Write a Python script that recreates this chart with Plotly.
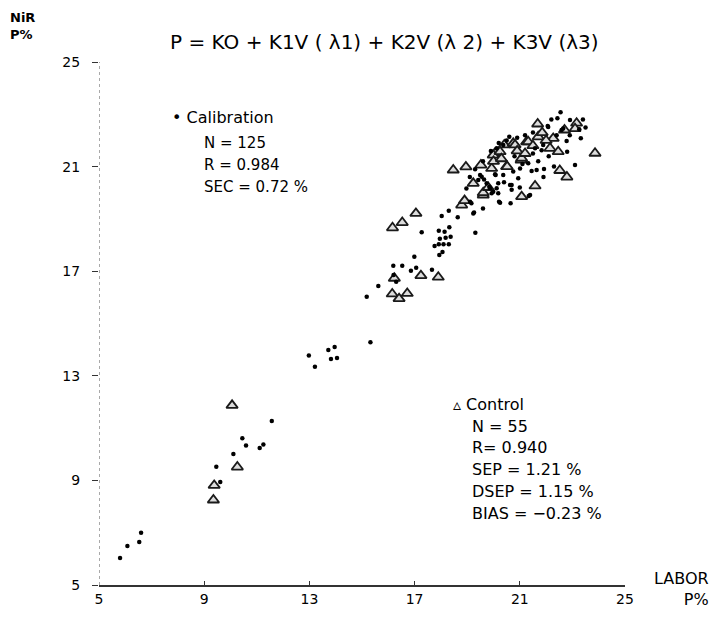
import plotly.graph_objects as go

# Calibration samples (dots): LABOR P% vs NIR P%
cal_x = [5.80, 6.08, 6.53, 6.60, 9.46, 9.61, 10.11, 10.45, 10.59, 11.11, 11.25, 11.57,
         12.98, 13.21, 13.72, 13.96, 13.82, 14.05, 15.32, 15.18, 15.62, 16.19, 16.53, 16.86,
         17.06, 16.99, 17.27, 17.66, 16.2, 16.3,
         17.92, 18.14, 18.32, 17.96, 18.18, 18.37, 17.76, 17.92, 18.10, 18.30, 18.06, 17.94,
         18.03, 18.30, 18.64, 19.26, 19.31, 19.16,
         18.97, 19.49, 19.64, 19.74, 19.87, 20.08, 20.18, 20.21, 19.23, 20.25, 20.65, 21.34,
         19.84, 19.99, 20.18, 20.63, 20.69, 19.11, 22.55, 22.43, 22.91, 22.08, 22.59, 22.78,
         23.32, 22.80, 23.10, 21.92, 21.64, 21.45, 21.32, 20.94, 20.75, 20.37, 20.06, 19.55,
         20.69, 21.39, 20.12, 19.93, 19.42, 21.83, 21.89, 21.58, 21.01, 20.60, 20.37, 20.12,
         22.65, 23.26, 22.06, 19.1, 19.3, 19.6, 19.9, 20.2, 20.5, 20.9, 21.2, 21.5, 22.2,
         22.4, 21.1, 21.7, 22.1, 22.3, 22.9, 23.5, 23.4, 19.6, 21.0, 21.9, 20.4, 20.8, 21.5]
cal_y = [6.03, 6.49, 6.64, 7.00, 9.52, 8.94, 10.01, 10.61, 10.33, 10.24, 10.37, 11.27,
         13.78, 13.35, 13.99, 14.10, 13.64, 13.68, 14.28, 16.02, 16.43, 17.21, 17.21, 17.02,
         17.13, 17.55, 18.49, 17.06, 16.85, 16.6,
         18.55, 18.51, 18.68, 18.24, 18.28, 18.32, 17.96, 18.03, 18.03, 18.03, 17.73, 17.62,
         19.11, 19.31, 19.06, 19.24, 18.47, 19.60,
         20.16, 20.68, 20.51, 20.36, 20.17, 20.68, 20.36, 19.66, 19.21, 19.62, 19.60, 19.88,
         20.23, 20.04, 19.98, 20.30, 20.11, 19.66, 23.08, 22.85, 22.78, 22.51, 22.40, 21.98,
         22.08, 21.57, 21.06, 20.91, 20.87, 20.83, 21.13, 20.55, 20.81, 20.68, 20.71, 20.61,
         20.30, 19.91, 20.17, 19.98, 20.49, 21.63, 21.83, 21.70, 20.93, 22.14, 21.83, 21.70,
         22.46, 22.43, 22.55, 20.6, 20.9, 21.2, 21.6, 21.9, 22.0, 22.1, 22.2, 22.3, 22.8,
         22.2, 21.1, 21.2, 21.4, 21.0, 22.2, 22.5, 22.8, 19.4, 20.2, 20.6, 20.4, 21.4, 21.5]

# Control samples (triangles)
ctl_x = [9.35, 9.38, 10.26, 10.06,
         16.16, 16.53, 17.05, 16.23, 17.24, 17.90, 16.15, 16.41, 16.72,
         18.47, 18.95, 19.52, 19.93, 20.50, 21.05, 20.06, 20.41, 20.75, 21.26, 21.70, 22.27,
         22.15, 22.46, 21.68, 23.16, 23.10, 23.86, 22.52, 22.79, 21.58, 21.07, 19.61, 19.23,
         18.79, 19.61, 19.99, 21.32, 20.82, 21.07, 20.52, 20.00, 21.85, 20.25, 21.50, 20.90,
         22.00, 18.90, 20.30, 21.20, 22.70, 19.80]
ctl_y = [8.25, 8.81, 9.51, 11.87,
         18.66, 18.86, 19.21, 16.73, 16.83, 16.77, 16.13, 15.95, 16.15,
         20.87, 20.99, 21.06, 20.93, 21.00, 21.25, 21.51, 21.83, 21.89, 21.95, 22.14, 22.08,
         21.70, 21.57, 22.63, 22.66, 22.45, 21.51, 20.85, 20.60, 20.26, 19.85, 19.91, 20.36,
         19.53, 20.00, 21.44, 21.95, 21.83, 21.32, 21.00, 21.20, 22.30, 21.57, 21.80, 21.60,
         22.00, 19.70, 21.30, 21.50, 22.40, 20.20]

ticks = [5, 9, 13, 17, 21, 25]
tick_labels = ["5", "9", "13", "17", "21", "25"]

title_text = "P = KO + K1V ( λ1) + K2V (λ 2) + K3V (λ3)"
cal_lines = ["N = 125", "R = 0.984", "SEC = 0.72 %"]
ctl_lines = ["N = 55", "R= 0.940", "SEP = 1.21 %", "DSEP = 1.15 %", "BIAS = −0.23 %"]

FONT = "DejaVu Sans"

fig = go.Figure()
fig.add_trace(go.Scatter(
    x=ctl_x, y=ctl_y, mode="markers", name="Control",
    marker=dict(symbol="triangle-up", size=10, color="#dcdcdc", line=dict(width=1.8, color="#1a1a1a")),
    cliponaxis=False, showlegend=False))
fig.add_trace(go.Scatter(
    x=cal_x, y=cal_y, mode="markers", name="Calibration",
    marker=dict(symbol="circle", size=4.5, color="black"),
    cliponaxis=False, showlegend=False))

# dotted y-axis line
fig.add_shape(type="line", xref="x", yref="y", x0=5, x1=5, y0=5, y1=25,
              line=dict(color="#555", width=1, dash="dot"))

ann = []
ann.append(dict(text=title_text, x=0.542, y=1.038, xref="paper", yref="paper",
                xanchor="center", yanchor="middle", showarrow=False,
                font=dict(size=20, family=FONT, color="black")))
ann.append(dict(text="<b>NiR<br>P%</b>", x=-0.173, y=1.103, xref="paper", yref="paper",
                xanchor="left", yanchor="top", align="left", showarrow=False,
                font=dict(size=13, family=FONT, color="black")))
ann.append(dict(text="LABOR<br>P%", x=1.052, y=0.035, xref="paper", yref="paper",
                xanchor="left", yanchor="top", align="right", showarrow=False,
                font=dict(size=16, family=FONT, color="black")))
ann.append(dict(text="• Calibration", x=0.135, y=0.893, xref="paper", yref="paper",
                xanchor="left", yanchor="middle", showarrow=False,
                font=dict(size=16, family=FONT, color="black")))
for i, t in enumerate(cal_lines):
    ann.append(dict(text=t, x=0.195, y=0.845 - i * 0.042, xref="paper", yref="paper",
                    xanchor="left", yanchor="middle", showarrow=False,
                    font=dict(size=15, family=FONT, color="black")))
ann.append(dict(text="▵ Control", x=0.67, y=0.346, xref="paper", yref="paper",
                xanchor="left", yanchor="middle", showarrow=False,
                font=dict(size=16, family=FONT, color="black")))
for i, t in enumerate(ctl_lines):
    ann.append(dict(text=t, x=0.705, y=0.304 - i * 0.042, xref="paper", yref="paper",
                    xanchor="left", yanchor="middle", showarrow=False,
                    font=dict(size=16, family=FONT, color="black")))

fig.update_layout(
    width=716, height=616,
    margin=dict(l=91, r=99, t=54, b=39, autoexpand=False),
    paper_bgcolor="white", plot_bgcolor="white",
    font=dict(family=FONT, color="black"),
    annotations=ann,
    xaxis=dict(range=[5, 25], tickvals=ticks, ticktext=tick_labels, showgrid=False,
               zeroline=False, showline=True, linecolor="#333", linewidth=2,
               ticks="inside", ticklen=4, tickcolor="#333",
               tickfont=dict(size=14, family=FONT), automargin=False),
    yaxis=dict(range=[5, 25], tickvals=ticks, ticktext=tick_labels, showgrid=False,
               zeroline=False, showline=False,
               ticks="outside", ticklen=6, tickcolor="#333", ticklabelstandoff=9,
               tickfont=dict(size=14, family=FONT), automargin=False),
)

fig.write_html("out.html")
